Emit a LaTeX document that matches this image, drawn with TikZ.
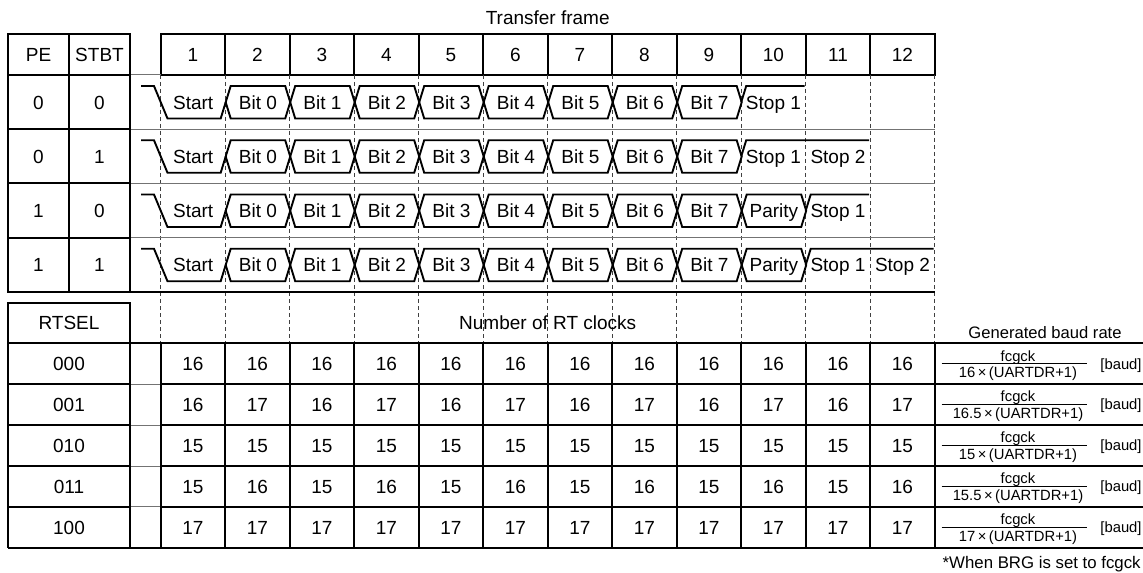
\documentclass[tikz,border=0pt]{standalone}
\usepackage{fontspec}
\setmainfont{Liberation Sans}
\usetikzlibrary{calc}

\begin{document}
\begin{tikzpicture}[x=0.5pt, y=-0.5pt,
    frameln/.style={line width=1pt, black},
    sepln/.style={line width=0.5pt, black!55},
    clkln/.style={line width=0.5pt, black!75, dash pattern=on 2pt off 1.5pt},
    wave/.style={line width=0.95pt, line join=miter},
    txt/.style={font=\fontsize{9.5}{11}\selectfont, inner sep=0pt, text height=6.8pt, text depth=0pt},
    fml/.style={font=\fontsize{7.4}{8}\selectfont, inner sep=0pt, text height=5.3pt, text depth=0pt},
    note/.style={font=\fontsize{8.4}{10}\selectfont, inner sep=0pt, text height=6pt, text depth=0pt}
  ]
  \useasboundingbox (0,0) rectangle (1143,572);

  % header
  \node[txt] (title) at (547.7,18) {Transfer frame};
  \node[txt] (pe) at (38.5,54.5) {PE};
  \node[txt] (stbt) at (99.5,54.5) {STBT};
  \draw[frameln] (160.7,34) rectangle (934.7,75);
  \foreach \k in {1,...,12} {
    \draw[frameln] ({160.7+\k*64.5},34) -- ({160.7+\k*64.5},75);
    \node[txt] (col\k) at ({160.7+(\k-0.5)*64.5},54.5) {\k};
  }

  % bit boundaries
  \foreach \k in {0,...,12}
    \draw[clkln] ({160.7+\k*64.5},75) -- ({160.7+\k*64.5},343.3);

  % frame rows
  \draw[sepln] (130,75) -- (160.7,75);
  \foreach \y in {129.25,183.5,237.75}
    \draw[sepln] (130,\y) -- (934.7,\y);
  \draw[frameln] (8,292) -- (934.7,292);
  \draw[frameln] (8,34) rectangle (130,292);
  \draw[frameln] (69,34) -- (69,292);
  \foreach \y in {75,129.25,183.5,237.75}
    \draw[frameln] (8,\y) -- (130,\y);

  \foreach \r/\vpe/\vst/\hasp/\nstop in {0/0/0/0/1, 1/0/1/0/2, 2/1/0/1/1, 3/1/1/1/2} {
    \pgfmathsetmacro{\yt}{75+\r*54.25}
    \pgfmathsetmacro{\yh}{\yt+11}
    \pgfmathsetmacro{\yl}{\yt+43.5}
    \pgfmathsetmacro{\ym}{\yt+27.25}
    \node[txt] (pe\r) at (38.5,\ym) {\vpe};
    \node[txt] (st\r) at (99.5,\ym) {\vst};
    % start bit
    \draw[wave] (141,\yh) -- (154,\yh) -- (167.5,\yl) -- (220.7,\yl) -- (225.7,\ym);
    \node[txt] (start\r) at (193.2,\ym) {Start};
    % data bits, parity
    \pgfmathtruncatemacro{\nb}{7+\hasp}
    \foreach \bt in {0,...,\nb} {
      \pgfmathsetmacro{\xl}{225.7+\bt*64.5}
      \draw[wave] (\xl,\ym) -- ({\xl+5},\yh) -- ({\xl+59.5},\yh) -- ({\xl+64.5},\ym)
        -- ({\xl+59.5},\yl) -- ({\xl+5},\yl) -- cycle;
      \ifnum\bt<8
        \node[txt] (bit\r-\bt) at ({\xl+32.25},\ym) {Bit \bt};
      \else
        \node[txt] (par\r) at ({\xl+32.25},\ym) {Parity};
      \fi
    }
    % stop bits
    \pgfmathsetmacro{\xe}{741.2+\hasp*64.5}
    \draw[wave] (\xe,\ym) -- ({\xe+5},\yh) -- ({\xe+\nstop*64.5-1},\yh);
    \node[txt] (stopa\r) at ({\xe+32.25},\ym) {Stop 1};
    \ifnum\nstop=2
      \node[txt] (stopb\r) at ({\xe+96.75},\ym) {Stop 2};
    \fi
  }

  % RT clock table
  \draw[frameln] (8,302.7) rectangle (130,343.3);
  \node[txt] (rtsel) at (69,323) {RTSEL};
  \node[txt] (rtclk) at (547.7,323) {Number of RT clocks};
  \node[note, font=\fontsize{8.3}{10}\selectfont] (baudhd) at (1045,332) {Generated baud rate};
  \foreach \i in {0,5}
    \draw[frameln] (8,{343.3+\i*40.9}) -- (1143,{343.3+\i*40.9});
  \foreach \i in {1,...,4} {
    \draw[frameln] (8,{343.3+\i*40.9}) -- (130,{343.3+\i*40.9});
    \draw[sepln] (130,{343.3+\i*40.9}) -- (160.7,{343.3+\i*40.9});
    \draw[frameln] (160.7,{343.3+\i*40.9}) -- (1143,{343.3+\i*40.9});
  }
  \draw[frameln] (8,343.3) -- (8,547.8);
  \draw[frameln] (130,343.3) -- (130,547.8);
  \foreach \k in {0,...,12}
    \draw[frameln] ({160.7+\k*64.5},343.3) -- ({160.7+\k*64.5},547.8);

  \foreach \i/\sel/\va/\vb/\dv in {0/000/16/16/16, 1/001/16/17/16.5, 2/010/15/15/15, 3/011/15/16/15.5, 4/100/17/17/17} {
    \pgfmathsetmacro{\ym}{363.75+\i*40.9}
    \node[txt] (rt\i) at (69,\ym) {\sel};
    \foreach \k in {1,...,12}
      \node[txt] (clk\i-\k) at ({160.7+(\k-0.5)*64.5},\ym) {\ifodd\k\relax\va\else\vb\fi};
    \draw[line width=0.5pt] (941.7,\ym) -- (1087,\ym);
    \node[fml] (fck\i) at (1018,{\ym-8}) {fcgck};
    \node[fml] (den\i) at (1018,{\ym+8.5}) {\dv\,×\,(UARTDR+1)};
    \node[fml] (baud\i) at (1121,\ym) {[baud]};
  }
  \node[note, anchor=east] (brg) at (1141,562) {*When BRG is set to fcgck};
\end{tikzpicture}
\end{document}
